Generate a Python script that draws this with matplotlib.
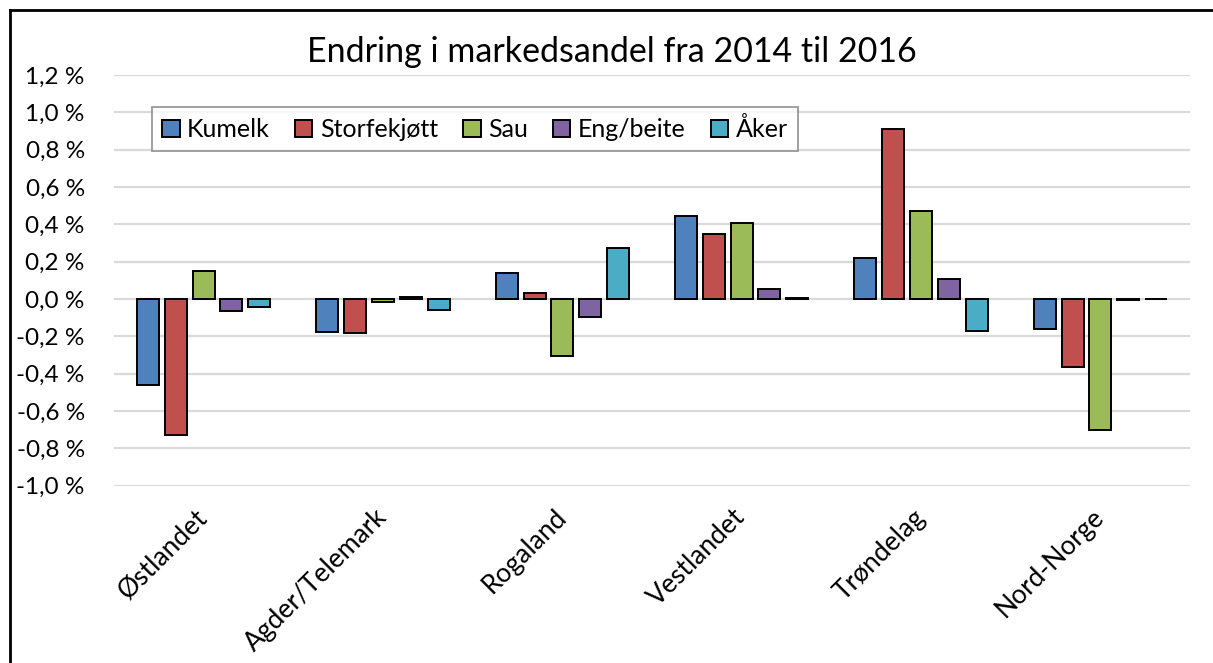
import matplotlib
matplotlib.use("Agg")
import matplotlib.pyplot as plt
from matplotlib.lines import Line2D
import numpy as np

plt.rcParams['font.family'] = ['Lato', 'DejaVu Sans']

categories = ["Østlandet", "Agder/Telemark", "Rogaland", "Vestlandet", "Trøndelag", "Nord-Norge"]
series_names = ["Kumelk", "Storfekjøtt", "Sau", "Eng/beite", "Åker"]
kumelk = [-0.46, -0.18, 0.14, 0.445, 0.22, -0.163]
storfekjott = [-0.73, -0.182, 0.034, 0.346, 0.908, -0.365]
sau = [0.152, -0.016, -0.307, 0.409, 0.47, -0.703]
eng_beite = [-0.065, 0.012, -0.095, 0.054, 0.107, -0.005]
aker = [-0.043, -0.059, 0.272, 0.003, -0.17, 0.002]
colors = ["#4F81BD", "#C0504D", "#9BBB59", "#8064A2", "#4BACC6"]
yticks = [-1.0, -0.8, -0.6, -0.4, -0.2, 0.0, 0.2, 0.4, 0.6, 0.8, 1.0, 1.2]
title = "Endring i markedsandel fra 2014 til 2016"

W, H = 1213, 663
fig = plt.figure(figsize=(W / 100, H / 100), dpi=100)
ax = fig.add_axes([114 / W, 1 - 485.5 / H, (1190 - 114) / W, (485.5 - 75) / H])

data = [kumelk, storfekjott, sau, eng_beite, aker]
x = np.arange(len(categories))
step = 0.155
width = 0.123
for i, (vals, name, c) in enumerate(zip(data, series_names, colors)):
    ax.bar(x + (i - 2) * step, vals, width=width, color=c, edgecolor="black",
           linewidth=1.4, label=name, zorder=3)

ax.set_xlim(-0.5, len(categories) - 0.5)
ax.set_ylim(-1.0, 1.2)
ax.set_yticks(yticks)
ax.set_yticklabels([f"{v:.1f} %".replace(".", ",").replace("-0,0", "0,0") for v in yticks],
                   fontsize=17.5)
ax.yaxis.grid(True, color="#d9d9d9", linewidth=1.6, zorder=0)
ax.set_axisbelow(True)
for s in ax.spines.values():
    s.set_visible(False)
ax.tick_params(axis="y", length=0, pad=21)
ax.tick_params(axis="x", length=0, pad=20)
ax.set_xticks(x)
ax.set_xticklabels(categories, rotation=45, ha="right", va="center",
                   rotation_mode="anchor", fontsize=19)

fig.text(612 / W, 1 - 52 / H, title, ha="center", va="center", fontsize=24.5)

leg = ax.legend(loc="upper left", bbox_to_anchor=(152 / W, 1 - 107 / H),
                bbox_transform=fig.transFigure, ncol=5, fontsize=18,
                frameon=True, fancybox=False, edgecolor="#808080",
                handlelength=0.7, handleheight=0.7, handletextpad=0.3,
                columnspacing=1.0, borderpad=0.4, borderaxespad=0)
leg.get_frame().set_linewidth(1.3)

fig.add_artist(Line2D([9.5 / W, 9.5 / W], [0, 1 - 9.5 / H], color="black", lw=2,
                      transform=fig.transFigure))
fig.add_artist(Line2D([9.5 / W, 1], [1 - 9.5 / H, 1 - 9.5 / H], color="black", lw=2,
                      transform=fig.transFigure))

fig.savefig("out.png", dpi=100, facecolor="white")
